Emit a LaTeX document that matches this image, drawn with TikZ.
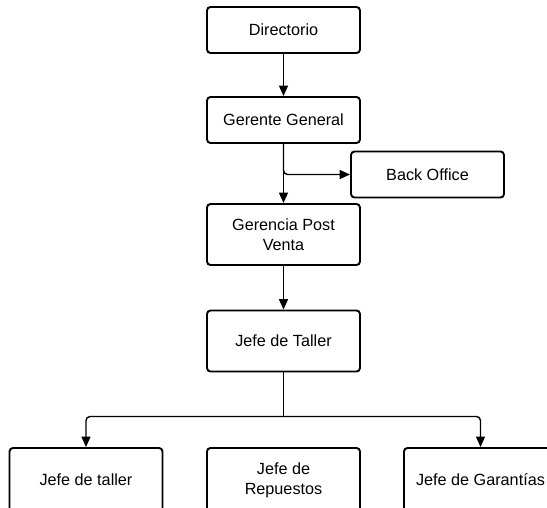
\documentclass[tikz,border=0pt]{standalone}
\usepackage{fontspec}
\setmainfont{Liberation Sans}
\usetikzlibrary{arrows.meta}
\begin{document}
\begin{tikzpicture}[x=1pt,y=-1pt,
  box/.style={draw=black, line width=1.9pt, rounded corners=3.5pt, fill=white,
    minimum width=153pt, align=center, inner sep=2pt,
    font=\fontsize{16.2}{20}\selectfont},
  low/.style={box, minimum height=46pt},
  tall/.style={box, minimum height=61pt},
  cut/.style={box, minimum height=64pt},
  link/.style={line width=1.4pt, rounded corners=4pt,
    -{Triangle[length=10.5pt,width=9pt]}},
  trunk/.style={line width=1.4pt, rounded corners=4pt}]
\useasboundingbox (0,0) rectangle (547,507);
\clip (0,0) rectangle (547,507);
\fill[white] (0,0) rectangle (547,507);

% management chain
\node[low]  (dir) at (283.5,30)  {Directorio};
\node[low]  (gg)  at (283.5,120) {Gerente General};
\node[low]  (bo)  at (427.5,174.5) {Back Office};
\node[tall] (gpv) at (283.5,234.5) {Gerencia Post\\Venta};
\node[tall] (jt)  at (283.5,341) {Jefe de Taller};

% workshop staff (running off the lower edge)
\node[cut] (jtl) at (86,480)  {Jefe de taller};
\node[cut] (jr)  at (283.5,480) {Jefe de\\Repuestos};
\node[cut] (jg)  at (480.5,480) {Jefe de Garantías};

\draw[link] (dir) -- (gg);
\draw[link] (gg) -- (gpv);
\draw[link] (gg.south) |- (bo.west);
\draw[link] (gpv) -- (jt);

\coordinate (split) at (283.5,416.5);
\draw[trunk] (jt.south) -- (split);
\draw[link] (split) -| (jtl.north);
\draw[link] (split) -| (jg.north);
\end{tikzpicture}
\end{document}
